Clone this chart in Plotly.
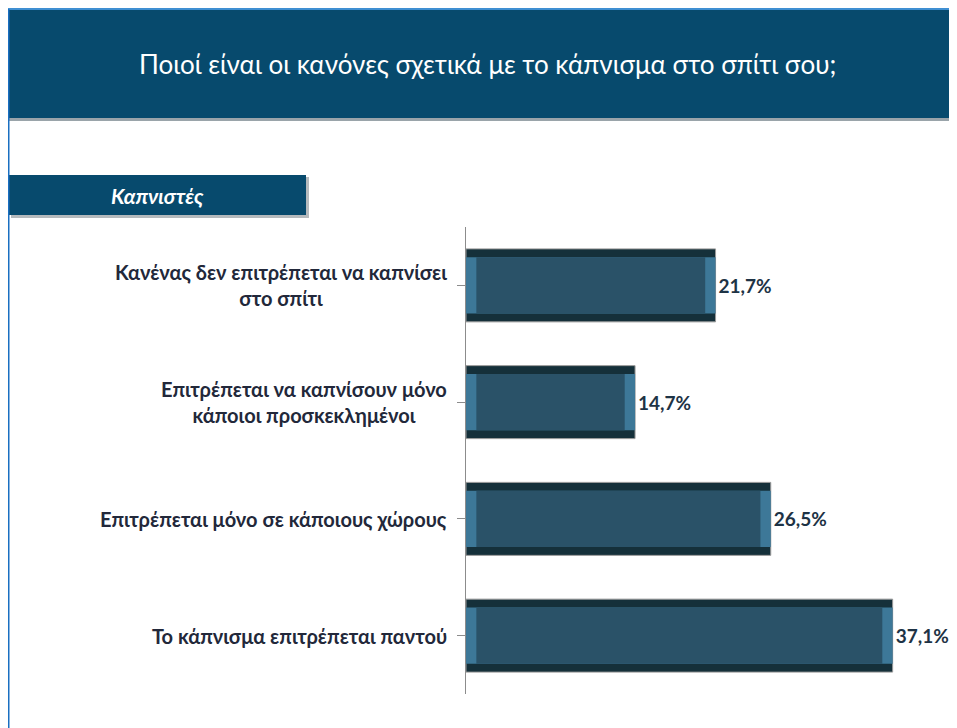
import plotly.graph_objects as go

# data
categories = [
    "Κανένας δεν επιτρέπεται να καπνίσει<br>στο σπίτι",
    "Επιτρέπεται να καπνίσουν μόνο<br>κάποιοι προσκεκλημένοι",
    "Επιτρέπεται μόνο σε κάποιους χώρους",
    "Το κάπνισμα επιτρέπεται παντού",
]
values = [21.7, 14.7, 26.5, 37.1]
title_text = "Ποιοί είναι οι κανόνες σχετικά με το κάπνισμα στο σπίτι σου;"
group_label = "Καπνιστές"

OFF = 8  # page body margin
W, H = 957 - OFF, 728 - OFF
FONT = "Lato"
NAVY = "#074a6d"

# screen pixel -> paper fraction
def px_x(p):
    return (p - OFF) / W

def px_y(p):
    return 1 - (p - OFF) / H

labels = [f"{v:.1f}".replace(".", ",") + "%" for v in values]
cats = list(range(len(values)))

fig = go.Figure()

# outer bar (dark top/bottom bevel)
fig.add_trace(go.Bar(
    x=values, y=cats, orientation="h", width=0.625,
    marker=dict(color="#15303a", line=dict(color="#9a9a9a", width=1)),
    text=[f"<b>{t}</b>" for t in labels], textposition="outside", cliponaxis=False,
    textfont=dict(family=FONT, size=19, color="#1e3345"),
    hoverinfo="skip",
))
# light left/right bevel
fig.add_trace(go.Bar(
    x=values, y=cats, orientation="h", width=0.48,
    marker=dict(color="#3d7898", line=dict(width=0)),
    hoverinfo="skip",
))
# inner face
fig.add_trace(go.Bar(
    x=[v - 1.8 for v in values], base=[0.9] * len(values), y=cats,
    orientation="h", width=0.48,
    marker=dict(color="#2a5268", line=dict(width=0)),
    hoverinfo="skip",
))

shapes = [
    # banner shadow
    dict(type="rect", xref="paper", yref="paper", x0=px_x(6), x1=1.02,
         y0=px_y(121), y1=px_y(12), fillcolor="#9aa4aa", line_width=0, layer="below"),
    # banner
    dict(type="rect", xref="paper", yref="paper", x0=px_x(6), x1=1.02,
         y0=px_y(118), y1=px_y(9), fillcolor=NAVY, line_width=0, layer="below"),
    dict(type="line", xref="paper", yref="paper", x0=px_x(6), x1=1.02,
         y0=px_y(9), y1=px_y(9), line=dict(color="#3f8fd2", width=2)),
    # left blue border
    dict(type="line", xref="paper", yref="paper", x0=px_x(8), x1=px_x(8),
         y0=px_y(9), y1=0, line=dict(color="#1a6fc1", width=3)),
    # tab shadow
    dict(type="rect", xref="paper", yref="paper", x0=px_x(11), x1=px_x(309),
         y0=px_y(218), y1=px_y(177), fillcolor="#b5babd", line_width=0, layer="below"),
    # tab
    dict(type="rect", xref="paper", yref="paper", x0=px_x(9), x1=px_x(306),
         y0=px_y(215), y1=px_y(175), fillcolor=NAVY, line_width=0, layer="below"),
]

annotations = [
    dict(text=title_text, xref="paper", yref="paper", x=px_x(487), y=px_y(64),
         xanchor="center", yanchor="middle", showarrow=False,
         font=dict(family=FONT, size=26, color="white")),
    dict(text=f"<b><i>{group_label}</i></b>", xref="paper", yref="paper",
         x=px_x(157), y=px_y(196), xanchor="center", yanchor="middle",
         showarrow=False, font=dict(family=FONT, size=21, color="white")),
]
for i, cat in enumerate(categories):
    annotations.append(dict(
        text=f"<b>{cat}</b>", xref="paper", yref="y", x=px_x(449), y=i,
        xanchor="right", yanchor="middle", align="center", showarrow=False,
        font=dict(family=FONT, size=20, color="#22283a"),
    ))

fig.update_layout(
    width=W, height=H,
    margin=dict(l=0, r=0, t=0, b=0),
    paper_bgcolor="white", plot_bgcolor="white",
    barmode="overlay", showlegend=False,
    xaxis=dict(domain=[px_x(466), 1], range=[0, (957 - 466) / 11.5], visible=False),
    yaxis=dict(
        domain=[px_y(694), px_y(227)], range=[3.5, -0.5],
        tickmode="array", tickvals=cats, showticklabels=False,
        showline=True, linecolor="#8c8c8c", linewidth=1,
        ticks="outside", tickson="boundaries", ticklen=8, tickcolor="#8c8c8c",
        showgrid=False, zeroline=False,
    ),
    shapes=shapes, annotations=annotations,
)

fig.write_html("out.html")
